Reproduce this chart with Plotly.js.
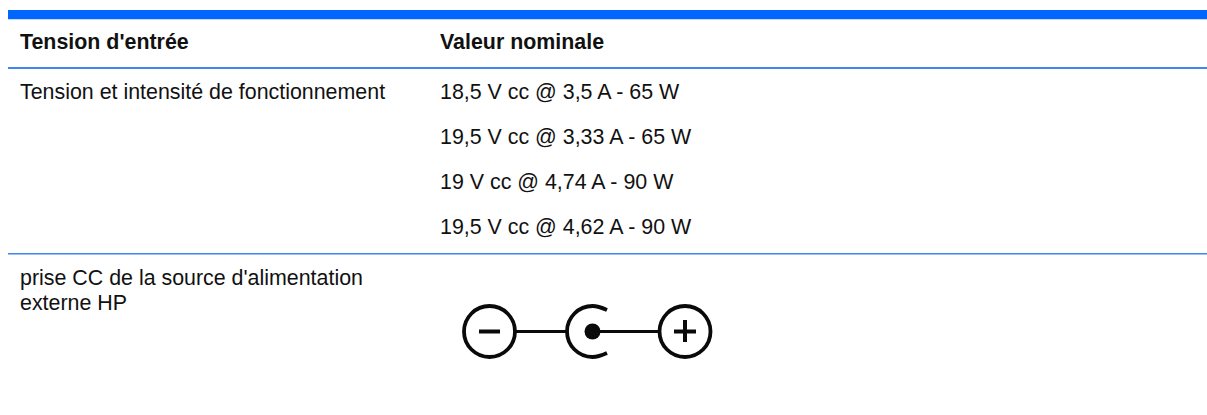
<!DOCTYPE html>
<html><head><meta charset="utf-8">
<script src="https://cdn.plot.ly/plotly-3.0.1.min.js"></script>
<style>html,body{margin:0;padding:0;background:#fff}</style></head>
<body><div id="chart" style="width:1207px;height:415px"></div>
<script>
const headerLabels = ["Tension d'entrée", "Valeur nominale"];
const leftCells = ["Tension et intensité de fonctionnement", "prise CC de la source d'alimentation", "externe HP"];
const ratingCells = ["18,5 V cc @ 3,5 A - 65 W", "19,5 V cc @ 3,33 A - 65 W", "19 V cc @ 4,74 A - 90 W", "19,5 V cc @ 4,62 A - 90 W"];

const headerY = [41.6, 41.6], headerX = [20, 440];
const leftY = [91.6, 277.8, 303];
const ratingY = [91.6, 136.6, 181.6, 226.6];
const colLeft = 20, colRight = 440;
const fontName = '"Liberation Sans", Arial, sans-serif', ink = '#111111', blue = '#0066ff', rule = '#3f86f2';

function label(text, x, y, bold) {
  return {text: bold ? '<b>' + text + '</b>' : text, x: x, y: y, xref: 'x', yref: 'y', xanchor: 'left', yanchor: 'middle',
    showarrow: false, borderpad: 0, borderwidth: 0, align: 'left', font: {family: fontName, size: 21.4, color: ink}};
}
const annotations = [
  ...headerLabels.map((t, i) => label(t, headerX[i], headerY[i], true)),
  ...leftCells.map((t, i) => label(t, colLeft, leftY[i], false)),
  ...ratingCells.map((t, i) => label(t, colRight, ratingY[i], false))
];

const iconInk = '#0a0a0a';
const iconLine = {color: iconInk, width: 3.8};
const r = 25.5, k = r * 0.5523;
const cx = 592.5, cy = 331.5;
const shapes = [
  {type: 'rect', x0: 8, x1: 1207, y0: 10, y1: 19, fillcolor: blue, line: {width: 0}},
  {type: 'rect', x0: 8, x1: 1207, y0: 19, y1: 20, fillcolor: '#c4dbff', line: {width: 0}},
  {type: 'rect', x0: 8, x1: 1207, y0: 67, y1: 69, fillcolor: rule, line: {width: 0}},
  {type: 'rect', x0: 8, x1: 1207, y0: 253, y1: 254.5, fillcolor: rule, line: {width: 0}},
  {type: 'circle', x0: 464, x1: 515, y0: cy - r, y1: cy + r, line: iconLine},
  {type: 'circle', x0: 659.5, x1: 710.5, y0: cy - r, y1: cy + r, line: iconLine},
  {type: 'line', x0: 515, x1: 566, y0: cy, y1: cy, line: {color: iconInk, width: 3}},
  {type: 'line', x0: 592, x1: 660, y0: cy, y1: cy, line: {color: iconInk, width: 3}},
  {type: 'line', x0: 479, x1: 500, y0: cy, y1: cy, line: {color: iconInk, width: 4}},
  {type: 'line', x0: 674, x1: 696, y0: cy, y1: cy, line: {color: iconInk, width: 4}},
  {type: 'line', x0: 685, x1: 685, y0: 320, y1: 342, line: {color: iconInk, width: 4}},
  {type: 'circle', x0: cx - 8, x1: cx + 8, y0: cy - 8, y1: cy + 8, fillcolor: iconInk, line: {width: 0}},
  {type: 'path', line: iconLine,
    path: `M ${cx + 14.5} ${cy - 21.5} C ${cx + 9} ${cy - 24} ${cx + 4} ${cy - r} ${cx} ${cy - r}` +
          ` C ${cx - k} ${cy - r} ${cx - r} ${cy - k} ${cx - r} ${cy}` +
          ` C ${cx - r} ${cy + k} ${cx - k} ${cy + r} ${cx} ${cy + r}` +
          ` C ${cx + 4} ${cy + r} ${cx + 9} ${cy + 24} ${cx + 14.5} ${cy + 21.5}`}
];

Plotly.newPlot('chart', [], {
  width: 1207, height: 415, margin: {l: 0, r: 0, t: 0, b: 0},
  paper_bgcolor: '#fff', plot_bgcolor: '#fff', showlegend: false,
  xaxis: {range: [0, 1207], visible: false, fixedrange: true},
  yaxis: {range: [415, 0], visible: false, fixedrange: true},
  annotations: annotations, shapes: shapes
}, {displayModeBar: false, staticPlot: true});
</script></body></html>
